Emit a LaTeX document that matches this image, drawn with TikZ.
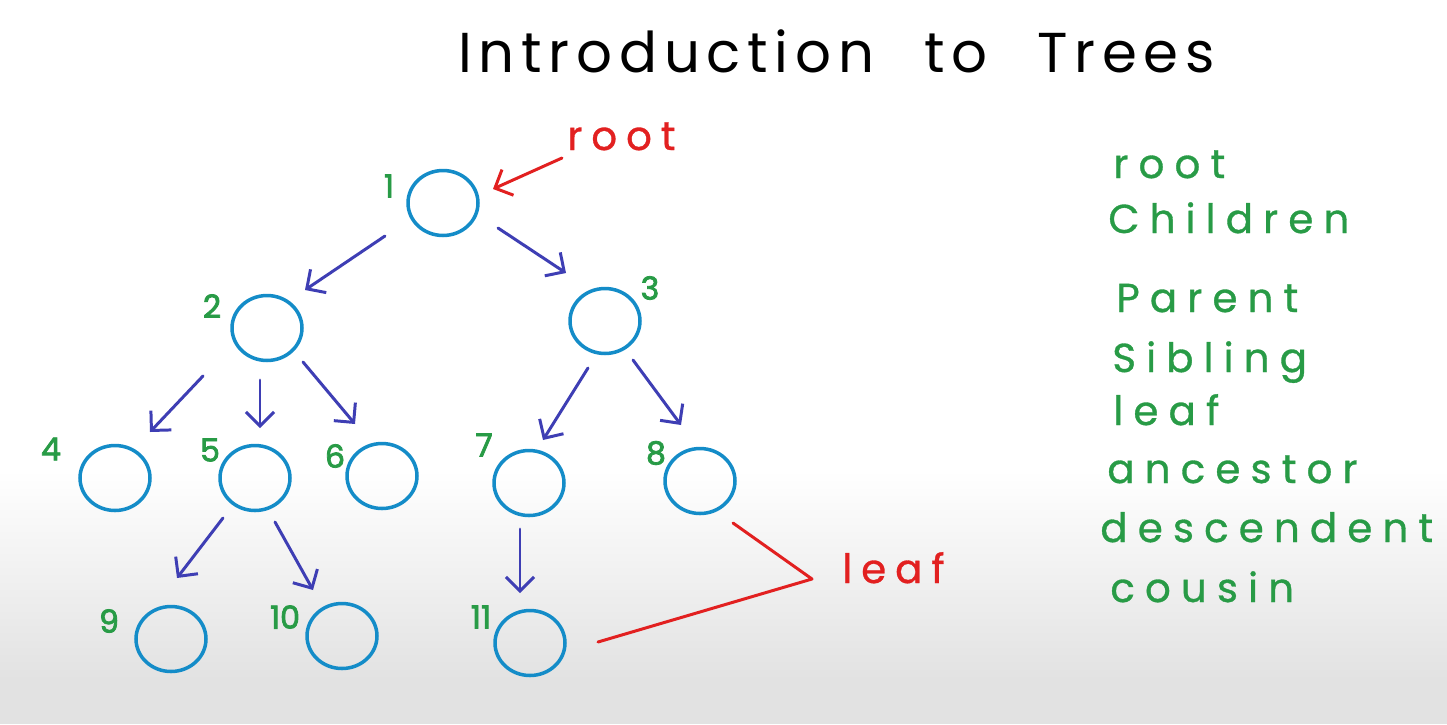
\documentclass[tikz,border=0pt]{standalone}
\usepackage{fontspec}
\setmainfont{Poppins}
\newfontfamily\handlist[LetterSpace=25,FakeBold=0.8]{Poppins}
\newfontfamily\handtitle[LetterSpace=12,WordSpace=2.3]{Poppins}
\newfontfamily\handred[LetterSpace=22,FakeBold=0.8]{Poppins}
\newfontfamily\handnum[FakeBold=2.5]{Poppins}
\usetikzlibrary{shapes.geometric,arrows.meta}
\definecolor{cgreen}{RGB}{40,155,70}
\definecolor{cblue}{RGB}{20,140,200}
\definecolor{cindigo}{RGB}{62,62,180}
\definecolor{cred}{RGB}{226,32,32}
\definecolor{cbg}{RGB}{226,226,226}
\begin{document}
\begin{tikzpicture}[x=0.02cm,y=-0.02cm,
  tnode/.style={draw=cblue,line width=2pt,ellipse,minimum width=1.40cm,minimum height=1.30cm,inner sep=0pt},
  numlbl/.style={text=cgreen,font=\handnum\fontsize{18}{20}\selectfont,inner sep=0pt},
  termlbl/.style={text=cgreen,font=\handlist\fontsize{23}{26}\selectfont,anchor=base west,inner sep=0pt},
  redlbl/.style={text=cred,font=\handred\fontsize{23}{26}\selectfont,anchor=base west,inner sep=0pt},
  treearrow/.style={draw=cindigo,line width=1.7pt,line cap=round,line join=round,-{Straight Barb[length=8pt,width=16pt]}},
  redline/.style={draw=cred,line width=1.7pt,line cap=round,line join=round},
]
\useasboundingbox (0,0) rectangle (1447,724);
% background
\fill[white] (0,0) rectangle (1447,724);
\shade[top color=white,bottom color=cbg] (0,470) rectangle (1447,680);
\fill[cbg] (0,680) rectangle (1447,724);

% title
\node[anchor=base west,inner sep=0pt,font=\handtitle\fontsize{32}{38}\selectfont] (title) at (458,72) {Introduction to Trees};

% tree nodes
\node[tnode] (n1) at (443,203) {};
\node[tnode] (n2) at (267,328) {};
\node[tnode] (n3) at (605,321) {};
\node[tnode] (n4) at (115,478) {};
\node[tnode] (n5) at (255,478) {};
\node[tnode] (n6) at (382,476) {};
\node[tnode] (n7) at (529,483) {};
\node[tnode] (n8) at (700,481) {};
\node[tnode] (n9) at (171,639) {};
\node[tnode] (n10) at (342,636) {};
\node[tnode] (n11) at (530,643) {};

% number labels
\node[numlbl] (l1) at (389,186) {1};
\node[numlbl] (l2) at (212,306) {2};
\node[numlbl] (l3) at (650,288) {3};
\node[numlbl] (l4) at (51,449) {4};
\node[numlbl] (l5) at (210,450) {5};
\node[numlbl] (l6) at (335,456) {6};
\node[numlbl] (l7) at (484,445) {7};
\node[numlbl] (l8) at (656,453) {8};
\node[numlbl] (l9) at (109,621) {9};
\node[numlbl] (l10) at (285,617) {10};
\node[numlbl] (l11) at (481,617) {11};

% tree arrows
\draw[treearrow] ([shift={(-58,33)}]n1.center) -- ([shift={(38,-38)}]n2.center);
\draw[treearrow] ([shift={(55,25)}]n1.center) -- ([shift={(-39,-48)}]n3.center);
\draw[treearrow] ([shift={(-64,48)}]n2.center) -- ([shift={(35,-46)}]n4.center);
\draw[treearrow] ([shift={(-7,52)}]n2.center) -- ([shift={(5,-50)}]n5.center);
\draw[treearrow] ([shift={(36,34)}]n2.center) -- ([shift={(-27,-52)}]n6.center);
\draw[treearrow] ([shift={(-17,47)}]n3.center) -- ([shift={(14,-43)}]n7.center);
\draw[treearrow] ([shift={(28,39)}]n3.center) -- ([shift={(-19,-56)}]n8.center);
\draw[treearrow] ([shift={(-32,40)}]n5.center) -- ([shift={(6,-61)}]n9.center);
\draw[treearrow] ([shift={(20,44)}]n5.center) -- ([shift={(-29,-46)}]n10.center);
\draw[treearrow] ([shift={(-9,46)}]n7.center) -- ([shift={(-10,-50)}]n11.center);

% root annotation
\node[redlbl] (rootlbl) at (567,150) {root};
\draw[redline,-{Straight Barb[length=8pt,width=16pt]}] ([shift={(-5,8)}]rootlbl.base west) -- ([shift={(50,-14)}]n1.center);

% leaf annotation
\node[redlbl] (leaflbl) at (842,583) {leaf};
\coordinate (leafv) at (812,579);
\draw[redline] ([shift={(33,42)}]n8.center) -- (leafv) -- ([shift={(68,-1)}]n11.center);

% terminology list
\node[termlbl] (t1) at (1113,178) {root};
\node[termlbl] (t2) at (1108,233) {Children};
\node[termlbl] (t3) at (1116,312) {Parent};
\node[termlbl] (t4) at (1112,372) {Sibling};
\node[termlbl] (t5) at (1113,425) {leaf};
\node[termlbl] (t6) at (1107,483) {ancestor};
\node[termlbl] (t7) at (1100,542) {descendent};
\node[termlbl] (t8) at (1110,602) {cousin};
\end{tikzpicture}
\end{document}
